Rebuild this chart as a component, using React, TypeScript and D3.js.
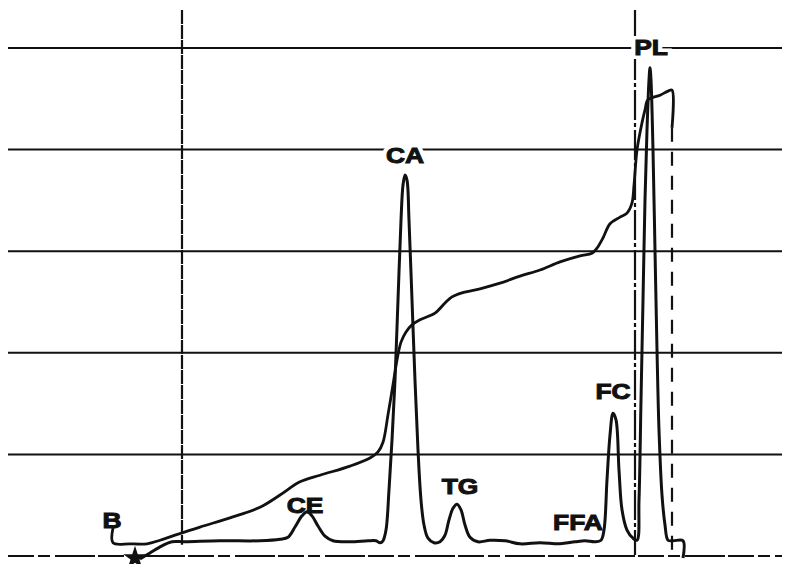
import React from 'react';
import * as d3 from 'd3';

const width = 786;
const height = 564;
const margin = {top : 48, left : 8, bottom : 8, right : 4};

// scan position (mm) and detector response (%)
const signalX = [26.4, 28.4, 30.8, 32.8, 35.4, 42.4, 50.4, 54.4, 56.0, 57.4, 58.8, 59.8, 60.8, 62.0, 63.4, 65.0, 68.4, 72.0, 73.6, 74.4, 75.0, 75.6, 76.2, 76.8, 77.4, 78.0, 78.6, 79.0, 79.4, 79.8, 80.2, 80.8, 81.4, 82.0, 82.6, 83.2, 84.0, 85.2, 86.4, 87.4, 88.2, 89.0, 89.8, 90.6, 91.4, 92.4, 94.0, 96.4, 99.4, 102.4, 106.4, 110.4, 113.4, 115.4, 117.4, 118.6, 119.2, 119.8, 120.4, 121.0, 121.6, 122.2, 122.8, 123.8, 125.0, 125.8, 126.2, 126.6, 127.0, 127.4, 127.8, 128.2, 128.4, 128.6, 129.0, 129.4, 129.8, 130.2, 130.8, 131.4, 132.0, 133.0, 135.0, 135.0];
const signalY = [-0.6, 0.6, 2.0, 2.8, 2.8, 3.0, 3.0, 3.3, 3.7, 5.7, 7.9, 8.7, 7.9, 5.9, 3.9, 3.0, 2.8, 3.0, 3.0, 2.6, 3.0, 5.1, 13.0, 22.8, 34.6, 50.4, 66.1, 73.0, 75.0, 74.0, 66.1, 50.4, 34.6, 20.9, 11.0, 6.1, 3.5, 2.6, 2.8, 4.1, 7.1, 9.4, 10.2, 9.1, 6.1, 3.7, 2.8, 3.1, 3.0, 2.4, 2.6, 2.4, 2.8, 3.0, 2.8, 3.1, 5.1, 15.0, 23.8, 28.1, 26.8, 16.9, 9.1, 5.1, 3.5, 3.1, 11.0, 30.7, 50.4, 70.1, 83.9, 93.7, 96.1, 93.7, 79.9, 60.2, 40.6, 24.8, 12.0, 6.1, 3.1, 3.0, 3.0, -0.4];

// integrator trace
const integralX = [21.0, 21.0, 24.4, 27.8, 30.4, 33.4, 38.4, 44.4, 50.4, 54.4, 58.4, 62.4, 68.4, 72.4, 74.0, 75.0, 76.0, 77.0, 77.8, 78.6, 79.6, 80.8, 82.4, 85.4, 87.4, 88.8, 90.8, 94.4, 98.4, 102.4, 106.4, 110.4, 114.4, 116.8, 117.8, 119.0, 120.4, 122.4, 123.8, 124.8, 125.2, 125.8, 126.6, 127.4, 128.0, 130.4, 132.0, 132.8, 132.8];
const integralY = [5.5, 2.6, 2.4, 2.4, 3.1, 4.1, 5.7, 7.5, 9.6, 12.0, 14.6, 15.9, 17.7, 19.3, 20.5, 22.4, 27.8, 33.7, 38.6, 42.1, 44.1, 45.5, 46.5, 47.8, 49.8, 51.0, 51.8, 52.6, 53.7, 55.1, 56.3, 57.9, 59.1, 59.6, 60.6, 62.6, 65.4, 66.7, 67.5, 69.5, 73.0, 79.9, 84.3, 87.8, 89.8, 90.7, 91.5, 91.7, 84.3];

const peakNames = ["B", "CE", "CA", "TG", "FFA", "FC", "PL"];
const peakX = [20.8, 59.4, 79.4, 90.4, 114.0, 121.0, 128.6];
const peakY = [5.5, 8.5, 77.4, 12.2, 5.1, 30.9, 98.6];
const onGrid = ["CA", "PL"];

const gridValues = [20, 40, 60, 80, 100];
const cutX = [34.8, 125.4];
const cutTop = [107.5, 107.5];
const cutBottom = [2.2, 0.2];
const frontX = 132.8;
const frontRange = [84.3, -0.4];
const startX = 25.4;
const startY = -0.4;

const App = () => {

    const x = d3.scaleLinear()
        .domain([0, 154.8])
        .range([margin.left, width - margin.right]);

    const y = d3.scaleLinear()
        .domain([0, 100])
        .range([height - margin.bottom, margin.top]);

    const line = d3.line<number>()
        .curve(d3.curveCatmullRom.alpha(0.5));

    const signal = line(signalX.map((v, i) => [x(v), y(signalY[i])] as any));
    const integral = line(integralX.map((v, i) => [x(v), y(integralY[i])] as any));

    const star = d3.symbol().type(d3.symbolStar).size(170)();

    const labelPos = (i) => `translate(${x(peakX[i])},${y(peakY[i])}) scale(1.2,1)`;

    return (
        <svg width={width} height={height} style={{position: "absolute", left: 0, top: 0, background: "white"}}>
            <g stroke="#111" fill="none">
                {gridValues.map(v => (
                    <line key={v} x1={x(0)} x2={x(154.8)} y1={y(v)} y2={y(v)} strokeWidth={2} />
                ))}
                <line x1={x(0)} x2={x(154.8)} y1={y(0)} y2={y(0)} strokeWidth={1.8} strokeDasharray="26 4 12 5 40 3" />
                {cutX.map((v, i) => (
                    <line key={v} x1={x(v)} x2={x(v)} y1={y(cutTop[i])} y2={y(cutBottom[i])} strokeWidth={2.2} strokeDasharray={i == 0 ? "14 1" : "30 3 4 3"} />
                ))}
                <line x1={x(frontX)} x2={x(frontX)} y1={y(frontRange[0])} y2={y(frontRange[1])} strokeWidth={2.2} strokeDasharray="14 10" />
                <path d={integral} strokeWidth={2.8} strokeLinejoin="round" />
                <path d={signal} strokeWidth={3} strokeLinejoin="round" />
            </g>
            <path d={star} transform={`translate(${x(startX)},${y(startY)})`} fill="#111" />
            <g fontFamily="'Liberation Sans', Arial, sans-serif" fontWeight="bold" fontSize={22} textAnchor="middle">
                {peakNames.map((n, i) => onGrid.includes(n) ? (
                    <text key={n + "-halo"} transform={labelPos(i)} fill="white" stroke="white" strokeWidth={8}>{n}</text>
                ) : null)}
                {peakNames.map((n, i) => (
                    <text key={n} transform={labelPos(i)} fill="#111" stroke="#111" strokeWidth={1}>{n}</text>
                ))}
            </g>
        </svg>
    );
};

export default App;
